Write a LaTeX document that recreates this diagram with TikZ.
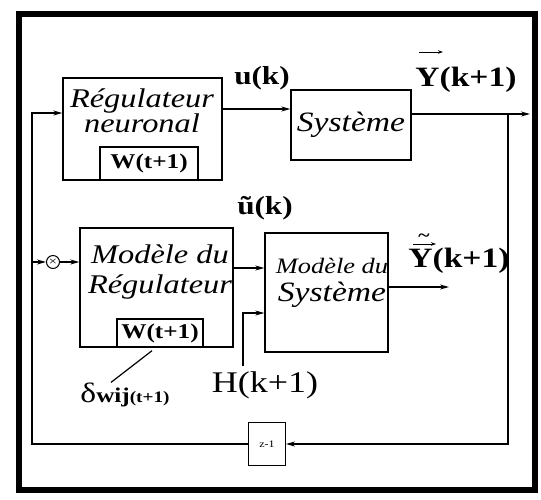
\documentclass[tikz,border=0pt]{standalone}
\usepackage{fontspec}
\setmainfont{Liberation Serif}[FakeStretch=1.2]
\usetikzlibrary{arrows.meta}

\begin{document}
\begin{tikzpicture}[x=1pt, y=-1pt, line width=1.2pt, >={Stealth[length=9pt,width=5pt]},
  blk/.style={draw, line width=1.4pt, inner sep=0pt},
  txt/.style={inner sep=0pt, align=center, font=\itshape\fontsize{27}{22}\selectfont},
  lab/.style={inner sep=0pt, font=\bfseries\fontsize{26}{26}\selectfont},
  big/.style={inner sep=0pt, font=\bfseries\fontsize{28}{28}\selectfont},
  wlab/.style={inner sep=0pt, font=\bfseries\fontsize{21}{21}\selectfont},
  acc/.style={line width=0.9pt, -{Stealth[length=5pt,width=3.5pt]}}]
\useasboundingbox (0,0) rectangle (541,499);
\draw[line width=6pt] (19,14) rectangle (535,490);

\node[blk, minimum width=159pt, minimum height=102pt] (reg) at (142.5,129) {};
\node[blk, minimum width=98pt, minimum height=33pt] (regW) at (149,163.5) {};
\node[txt] (regT) at (142,111) {Régulateur\\neuronal};
\node[wlab] (regWT) at (regW) {W(t+1)};
\node[blk, minimum width=120pt, minimum height=70pt, font=\itshape\fontsize{28}{28}\selectfont] (sys) at (351,125) {Système};

\node[blk, minimum width=153pt, minimum height=119pt] (mreg) at (156.5,287.5) {};
\node[blk, minimum width=86pt, minimum height=28pt] (mregW) at (160,333) {};
\node[txt, font=\itshape\fontsize{27}{30}\selectfont] (mregT) at (160,272) {Modèle du\\Régulateur};
\node[wlab] (mregWT) at (mregW) {W(t+1)};
\node[blk, minimum width=123pt, minimum height=119pt] (msys) at (326.5,292.5) {};
\node[txt, font=\itshape\fontsize{28}{28}\selectfont] (msysT) at (332,283) {{\fontsize{22}{22}\selectfont Modèle du}\\Système};

\node[blk, line width=1pt, minimum width=37pt, minimum height=43pt, font=\fontsize{10}{10}\selectfont] (zd) at (267,444) {z-1};
\node[draw, circle, line width=1pt, minimum size=13pt, inner sep=0pt, font=\fontsize{12}{12}\selectfont] (mult) at (53,262) {×};

\node[lab] (uk) at (262,78) {u(k)};
\node[big] (ytop) at (466,80) {Y(k+1)};
\draw[acc] (419,52) -- (443,52);
\node[lab] (ut) at (265,208) {ũ(k)};
\node[big] (ylow) at (459,261) {Y(k+1)};
\node[inner sep=0pt, font=\bfseries\fontsize{18}{18}\selectfont] (ylowt) at (424,238) {\textasciitilde};
\draw[acc] (413,244) -- (436,244);
\node[inner sep=0pt, font=\fontsize{30}{30}\selectfont] (hk) at (265,385) {H(k+1)};
\node[inner sep=0pt] (dw) at (125,395) {{\fontsize{28}{28}\selectfont δ}{\bfseries\fontsize{21}{21}\selectfont wij}{\bfseries\fontsize{16}{16}\selectfont(t+1)}};

\coordinate (out) at (530,114);
\coordinate (tap) at (508,114);
\coordinate (fbl) at (32,444);
\coordinate (hb) at (243,366);
\coordinate (yout) at (449,287);

\draw[->] ([yshift=20pt]reg.east) -- ([yshift=20pt]reg.east -| sys.west);
\draw[->] ([yshift=11pt]sys.east) -- (out);
\draw[->] (tap) |- (zd.east);
\draw[->] (zd.west) -- (fbl) |- ([yshift=16pt]reg.west);
\draw[->] (fbl |- mult) -- (mult);
\draw[->] (mult) -- (mult -| mreg.west);
\draw[->] ([yshift=19.5pt]mreg.east) -- ([yshift=19.5pt]mreg.east -| msys.west);
\draw[->] (hb) |- ([yshift=-20.5pt]msys.west);
\draw[->] ([yshift=5.5pt]msys.east) -- (yout);
\draw ([xshift=-14pt]dw.north) -- ([xshift=-8pt,yshift=-3pt]mregW.south);
\end{tikzpicture}
\end{document}
